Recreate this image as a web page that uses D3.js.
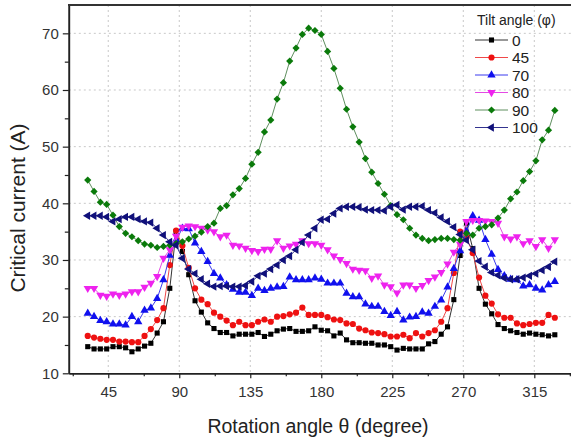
<!DOCTYPE html>
<html lang="en">
<head>
<meta charset="utf-8">
<title>Critical current vs rotation angle</title>
<script src="https://d3js.org/d3.v7.min.js"></script>
<style>
  body { margin: 0; background: #fff; }
  svg { display: block; font-family: Arial, "Liberation Sans", sans-serif; }
  .grid line { stroke: #c8c8c8; stroke-dasharray: 2,3; }
  .tick text { fill: #333; }
  .series path.line { fill: none; stroke-width: 1; }
</style>
</head>
<body>
<div id="chart"></div>
<script>

// rotation angles (deg) of the measured points
var angles = [32, 36, 40, 44, 48, 52, 56, 60, 64, 68, 72, 76, 80, 84, 88, 92, 96, 100, 104, 108,
  112, 116, 120, 124, 128, 132, 136, 140, 144, 148, 152, 156, 160, 164, 168, 172, 176, 180, 184, 188,
  192, 196, 200, 204, 208, 212, 216, 220, 224, 228, 232, 236, 240, 244, 248, 252, 256, 260, 264, 268,
  272, 276, 280, 284, 288, 292, 296, 300, 304, 308, 312, 316, 320, 324, 328];

// critical current (A) for each tilt angle
var tilt0 = [14.7, 14.3, 14.3, 14.3, 14.7, 14.7, 14.5, 13.8, 14.3, 14.8, 15.3, 17.1, 19.1, 25, 35,
  31.5, 27.4, 22.8, 20.8, 18.9, 17.9, 17.2, 17.2, 16.6,
  16.9, 16.9, 16.9, 17.2, 16.5, 16.9, 17.5, 17.8, 17.9, 17.4, 17.4, 17.5, 18.2, 17.6, 17.5, 16.6,
  17.1, 15.9, 15.4, 15.4, 15.3, 15.3, 15, 15, 14.7, 14.1, 14.4, 14.3, 14.3, 14.3, 15.2, 15.6,
  16.9, 18.2, 23, 30.8, 36.5, 32, 25, 22.2, 20.5, 18.6, 17.9, 17.5, 17.2, 16.9, 17.1, 16.9, 16.8, 16.6, 16.8];

var tilt45 = [16.6, 16.3, 16.1, 15.9, 15.9, 15.6, 15.6, 15.5, 15.5, 16.6, 17.8, 19.4, 21.5, 29.1, 35.2,
  32.5, 28.6, 25, 23, 22.2, 20.7, 20, 19.3, 18.5,
  19.1, 18.5, 18.5, 19.1, 19.5, 19.1, 20, 20.1, 20.4, 20.7, 21.6, 20.3, 20.3, 20.3, 19.9, 19.5,
  19.4, 18.8, 18.7, 17.9, 17.6, 17.2, 17.1, 16.9, 16.5, 16.5, 16.8, 16.2, 17.1, 16.5, 17.1, 17.6,
  19.1, 21.5, 27.7, 35, 34, 31.2, 26.9, 23.7, 22.3, 20.4, 19.8, 19.8, 18.8, 18.5, 18.7, 18.9, 18.9, 20.3, 19.8];

var tilt70 = [20.6, 20, 19.3, 19.1, 18.7, 18.7, 18.5, 20, 19.1, 21.1, 21.5, 23.2, 26.5, 30.8, 33.5,
  35.6, 35.5, 33, 31.5, 29.7, 27.6, 26.8, 25.6, 24.8,
  24.3, 24.3, 23.7, 25, 24.6, 25, 25.2, 25.3, 27, 26.5, 26.5, 26.5, 26.8, 26.6, 25.9, 25.9,
  25.9, 24.1, 23.5, 23.5, 22.2, 21.8, 21.8, 20.9, 20.2, 20.9, 19.4, 19.9, 20, 20.8, 20.6, 21.8,
  22.9, 25.2, 28.5, 31.6, 35, 37.8, 37, 33.6, 31, 28.3, 27.2, 26.6, 26.5, 25.4, 25.6, 25, 24.7, 25.6, 26.2];

var tilt80 = [25, 25, 23.8, 23.6, 24, 23.8, 24, 24.4, 24.4, 25.2, 25.9, 27.1, 30.3, 31.8, 34.2,
  35.8, 36, 35.9, 35.6, 35.3, 35, 34.1, 34.4, 32.6,
  32.5, 32.1, 31.7, 31.5, 31.9, 31.9, 33.4, 32.1, 32.5, 32.8, 33.4, 32.9, 32.9, 32.6, 31.8, 30.7,
  30.1, 29.4, 28.4, 28.2, 28.1, 26.8, 27.2, 25.6, 25.3, 24.2, 25.6, 25.6, 25, 25.5, 26.4, 27,
  27.8, 29.3, 31.4, 32.8, 36.8, 37, 37, 36.9, 36.8, 36.5, 34.1, 33.7, 34.1, 32.9, 33.4, 32.4, 33.6, 32.1, 33.6];

var tilt90 = [44.1, 42.1, 40.2, 39.8, 37.9, 35.9, 34.7, 34.1, 33.4, 32.8, 32.6, 32.2, 32.4, 32.6, 32.9,
  33.2, 33.7, 34.2, 34.9, 35.9, 36.5, 39.1, 39.6, 41.5, 42.6,
  44.4, 46.9, 49, 52.6, 54.7, 58.4, 61.3, 65.1, 67.4, 69.8, 70.9, 70.5, 69.8, 66.8, 63.8, 60.3,
  56.6, 53.5, 50.8, 47.9, 45.5, 43.5, 41.6, 39.6, 38, 37.1, 35.6, 34.4, 33.8, 33.4, 33.6,
  33.8, 33.8, 33.6, 33.5, 34.7, 34.4, 35.6, 35.9, 36.2, 37.4, 38.8, 40.8, 42, 44, 45.6, 47.5, 51.2, 52.9, 56.4];

var tilt100 = [37.8, 37.8, 37.8, 37.6, 36.8, 37.2, 37.6, 37.6, 37.2, 36.8, 36.6, 35.6, 34.4, 33.2, 32.6,
  30.3, 28.4, 27.6, 26.6, 25.8, 25.3, 25.4, 25.4, 25.3,
  25.3, 25.5, 26.2, 27.2, 27.6, 28.4, 29.1, 30, 30.7, 31.8, 33.1, 34.4, 35.6, 37.1, 37.2, 38.2,
  39.1, 39.4, 39.4, 39.3, 38.9, 38.8, 38.8, 38.7, 39.4, 39.7, 38.9, 39.4, 39.4,
  39.5, 38.8, 38.3, 37.5, 36.8, 35.8, 34.5, 33.5, 31.8, 29.8, 28.8, 27.8, 27.3, 26.8, 26.6, 26.6, 26.9, 27.2, 27.6, 28.2, 28.8, 29.7];

var tiltNames = ["0", "45", "70", "80", "90", "100"];
var xTicks = [45, 90, 135, 180, 225, 270, 315];
var yTicks = [10, 20, 30, 40, 50, 60, 70];

// styles for each series
var series = [
  {name: tiltNames[0], values: tilt0,   color: "#000000", line: "#333333", shape: d3.symbolSquare,   size: 26, rot: 0},
  {name: tiltNames[1], values: tilt45,  color: "#ee1111", line: "#f04848", shape: d3.symbolCircle,   size: 30, rot: 0},
  {name: tiltNames[2], values: tilt70,  color: "#1010ee", line: "#3b3bee", shape: d3.symbolTriangle, size: 30, rot: 0},
  {name: tiltNames[3], values: tilt80,  color: "#ee22ee", line: "#e44ae4", shape: d3.symbolTriangle, size: 30, rot: 180},
  {name: tiltNames[4], values: tilt90,  color: "#0a7a0a", line: "#5f8f5f", shape: d3.symbolSquare,   size: 26, rot: 45},
  {name: tiltNames[5], values: tilt100, color: "#10107a", line: "#33338f", shape: d3.symbolTriangle, size: 30, rot: -90}
];

var W = 571, H = 443;
var svg = d3.select("#chart").append("svg")
    .attr("width", W)
    .attr("height", H);

var x = d3.scaleLinear().domain([20, 338]).range([68.8, 570.6]);
var y = d3.scaleLinear().domain([10, 75]).range([373.3, 5]);

// dashed grid
var grid = svg.append("g").attr("class", "grid");
grid.selectAll("line.gx").data(xTicks).enter().append("line")
    .attr("x1", function(d) { return x(d); }).attr("x2", function(d) { return x(d); })
    .attr("y1", y(75)).attr("y2", y(10));
grid.selectAll("line.gy").data(yTicks.slice(1)).enter().append("line")
    .attr("x1", x(20)).attr("x2", W)
    .attr("y1", function(d) { return y(d); }).attr("y2", function(d) { return y(d); });

// series
var line = d3.line()
    .x(function(d, i) { return x(angles[i]); })
    .y(function(d) { return y(d); });

series.forEach(function(s) {
  var g = svg.append("g").attr("class", "series");
  g.append("path")
      .attr("class", "line")
      .attr("d", line(s.values))
      .attr("stroke", s.line);
  g.selectAll("path.pt").data(s.values).enter().append("path")
      .attr("class", "pt")
      .attr("d", d3.symbol().type(s.shape).size(s.size))
      .attr("fill", s.color)
      .attr("transform", function(d, i) {
        return "translate(" + x(angles[i]) + "," + y(d) + ") rotate(" + s.rot + ")";
      });
});

// axes
var xAxis = svg.append("g")
    .attr("transform", "translate(0," + y(10) + ")")
    .call(d3.axisBottom(x).tickValues(xTicks).tickSize(5).tickPadding(8).tickSizeOuter(0));
var xMinor = svg.append("g")
    .attr("transform", "translate(0," + y(10) + ")")
    .call(d3.axisBottom(x).tickValues([22.5, 67.5, 112.5, 157.5, 202.5, 247.5, 292.5, 337.5]).tickSize(3).tickFormat("").tickSizeOuter(0));
var yAxis = svg.append("g")
    .attr("transform", "translate(" + x(20) + ",0)")
    .call(d3.axisLeft(y).tickValues(yTicks).tickSize(6).tickPadding(4).tickSizeOuter(0));
var yMinor = svg.append("g")
    .attr("transform", "translate(" + x(20) + ",0)")
    .call(d3.axisLeft(y).tickValues([15, 25, 35, 45, 55, 65]).tickSize(4).tickFormat("").tickSizeOuter(0));

[xAxis, xMinor, yAxis, yMinor].forEach(function(a) {
  a.select(".domain").attr("stroke", "#222").attr("stroke-width", 1.6);
  a.selectAll(".tick line").attr("stroke", "#222").attr("stroke-width", 1.2);
  a.selectAll(".tick text").attr("font-size", 15);
});

// top frame
svg.append("line")
    .attr("x1", x(20) - 0.8).attr("x2", W)
    .attr("y1", y(75)).attr("y2", y(75))
    .attr("stroke", "#333").attr("stroke-width", 2.2);

// axis titles
svg.append("text")
    .attr("x", 318).attr("y", 433)
    .attr("text-anchor", "middle")
    .attr("font-size", 19.5)
    .attr("fill", "#222")
    .text("Rotation angle \u03b8 (degree)");

svg.append("text")
    .attr("transform", "translate(25,208) rotate(-90)")
    .attr("text-anchor", "middle")
    .attr("font-size", 21)
    .attr("fill", "#222")
    .text("Critical current (A)");

// legend
var legend = svg.append("g").attr("transform", "translate(475,0)");
legend.append("text")
    .attr("x", 2).attr("y", 25)
    .attr("font-size", 14)
    .attr("fill", "#222")
    .text("Tilt angle (\u03c6)");

series.forEach(function(s, i) {
  var row = legend.append("g").attr("transform", "translate(0," + (40 + i * 17.5) + ")");
  row.append("line")
      .attr("x1", 0).attr("x2", 33)
      .attr("stroke", s.line).attr("stroke-width", 1);
  row.append("path")
      .attr("d", d3.symbol().type(s.shape).size(s.size))
      .attr("fill", s.color)
      .attr("transform", "translate(16.5,0) rotate(" + s.rot + ")");
  row.append("text")
      .attr("x", 37).attr("y", 5.5)
      .attr("font-size", 15.5)
      .attr("fill", "#222")
      .text(s.name);
});

</script>
</body>
</html>
